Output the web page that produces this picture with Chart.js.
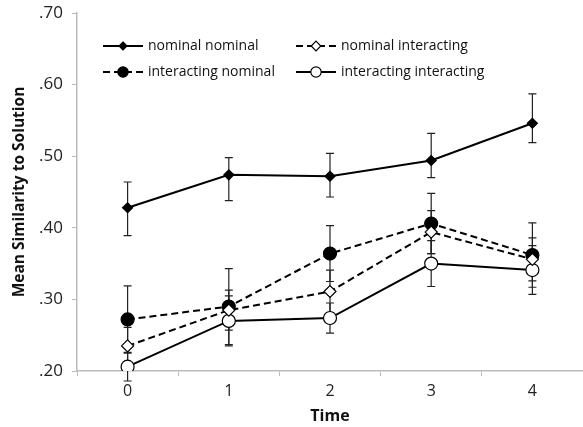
<!DOCTYPE html>
<html>
<head>
<meta charset="utf-8">
<script src="https://cdn.jsdelivr.net/npm/chart.js@4"></script>
<style>
  html, body { margin: 0; padding: 0; background: #fff; }
  #wrap { width: 583px; height: 427px; }
</style>
</head>
<body>
<div id="wrap"><canvas id="c" width="583" height="427"></canvas></div>
<script>
// Time points
const timeLabels = ['0', '1', '2', '3', '4'];

// Mean similarity to solution per condition
const nominalNominal         = [0.428, 0.474, 0.472, 0.494, 0.546];
const nominalInteracting     = [0.235, 0.285, 0.311, 0.394, 0.356];
const interactingNominal     = [0.272, 0.290, 0.364, 0.406, 0.362];
const interactingInteracting = [0.206, 0.270, 0.274, 0.350, 0.341];

// Error bar extents above and below each mean (same units)
const upNominalNominal           = [0.036, 0.024, 0.032, 0.038, 0.041];
const downNominalNominal         = [0.039, 0.036, 0.029, 0.024, 0.027];
const upNominalInteracting       = [0.026, 0.028, 0.030, 0.030, 0.030];
const downNominalInteracting     = [0.026, 0.028, 0.030, 0.030, 0.030];
const upInteractingNominal       = [0.047, 0.053, 0.039, 0.042, 0.045];
const downInteractingNominal     = [0.047, 0.053, 0.039, 0.042, 0.045];
const upInteractingInteracting   = [0.020, 0.035, 0.021, 0.032, 0.034];
const downInteractingInteracting = [0.020, 0.035, 0.021, 0.032, 0.034];

// Y axis tick values
const yTicks = [0.20, 0.30, 0.40, 0.50, 0.60, 0.70];

const FONT = "'Open Sans', 'DejaVu Sans', sans-serif";

// Vertical error bars with caps, drawn beneath lines and markers
const errorBars = {
  id: 'errorBars',
  beforeDatasetsDraw(chart) {
    const ctx = chart.ctx;
    const y = chart.scales.y;
    chart.data.datasets.forEach((ds, i) => {
      const meta = chart.getDatasetMeta(i);
      ctx.save();
      ctx.strokeStyle = '#222';
      ctx.lineWidth = 1.2;
      meta.data.forEach((pt, j) => {
        const v = ds.data[j];
        const yt = y.getPixelForValue(v + ds.errUp[j]);
        const yb = y.getPixelForValue(v - ds.errDown[j]);
        const x = pt.x;
        ctx.beginPath();
        ctx.moveTo(x, yt); ctx.lineTo(x, yb);
        ctx.moveTo(x - 4, yt); ctx.lineTo(x + 4, yt);
        ctx.moveTo(x - 4, yb); ctx.lineTo(x + 4, yb);
        ctx.stroke();
      });
      ctx.restore();
    });
  }
};

// Two-column legend inside the plot area, each entry a line sample with its marker
const insideLegend = {
  id: 'insideLegend',
  afterDraw(chart) {
    const ctx = chart.ctx;
    const cols = [103, 296];
    const rows = [46, 72];
    ctx.save();
    chart.data.datasets.forEach((ds, k) => {
      const x0 = cols[k % 2], yy = rows[Math.floor(k / 2)];
      ctx.strokeStyle = '#000';
      ctx.lineWidth = 2;
      ctx.setLineDash(ds.borderDash || []);
      ctx.beginPath();
      ctx.moveTo(x0, yy); ctx.lineTo(x0 + 40, yy);
      ctx.stroke();
      ctx.setLineDash([]);
      ctx.lineWidth = 1.2;
      ctx.fillStyle = ds.pointBackgroundColor;
      ctx.strokeStyle = '#000';
      ctx.beginPath();
      const r = ds.pointRadius * 0.8;
      if (ds.pointStyle === 'circle') {
        ctx.arc(x0 + 20, yy, r, 0, Math.PI * 2);
      } else {
        ctx.moveTo(x0 + 20, yy - r); ctx.lineTo(x0 + 20 + r, yy);
        ctx.lineTo(x0 + 20, yy + r); ctx.lineTo(x0 + 20 - r, yy); ctx.closePath();
      }
      ctx.fill(); ctx.stroke();
      ctx.fillStyle = '#111';
      ctx.font = "14px 'Open Sans', sans-serif";
      ctx.textBaseline = 'middle';
      ctx.textAlign = 'left';
      ctx.fillText(ds.label, x0 + 45, yy);
    });
    ctx.restore();
  }
};

function series(label, data, errUp, errDown, dashed, style, fill, radius) {
  return {
    label, data, errUp, errDown,
    borderColor: '#000',
    borderWidth: 2,
    borderDash: dashed ? [7, 4] : [],
    pointStyle: style,
    pointRadius: radius,
    pointHoverRadius: radius,
    pointBackgroundColor: fill,
    pointBorderColor: '#000',
    pointBorderWidth: 1.2,
    tension: 0,
    fill: false
  };
}

new Chart(document.getElementById('c'), {
  type: 'line',
  data: {
    labels: timeLabels,
    datasets: [
      series('nominal nominal', nominalNominal, upNominalNominal, downNominalNominal, false, 'rectRot', '#000', 5),
      series('nominal interacting', nominalInteracting, upNominalInteracting, downNominalInteracting, true, 'rectRot', '#fff', 6),
      series('interacting nominal', interactingNominal, upInteractingNominal, downInteractingNominal, true, 'circle', '#000', 6.5),
      series('interacting interacting', interactingInteracting, upInteractingInteracting, downInteractingInteracting, false, 'circle', '#fff', 6.5)
    ]
  },
  options: {
    responsive: false,
    animation: false,
    layout: { autoPadding: false, padding: { top: 13, right: 0, left: 0, bottom: 0 } },
    plugins: {
      legend: { display: false },
      tooltip: { enabled: false }
    },
    scales: {
      x: {
        type: 'category',
        offset: true,
        grid: { offset: true, drawOnChartArea: false, color: '#bbb', tickLength: 5 },
        border: { color: '#bbb', width: 1.5 },
        ticks: { color: '#222', font: { family: FONT, size: 16 }, padding: 6 },
        title: { display: true, text: 'Time', color: '#111', font: { family: FONT, size: 16, weight: 'bold' }, padding: { top: 0, bottom: 1 } },
        afterFit(scale) {
          scale.height = 56;
          scale.paddingLeft = 0;
          scale.paddingRight = 0;
        }
      },
      y: {
        min: 0.2, max: 0.7,
        afterBuildTicks(scale) { scale.ticks = yTicks.map(v => ({ value: v })); },
        grid: { drawOnChartArea: false, color: '#bbb', tickLength: 5 },
        border: { color: '#bbb', width: 1.5 },
        ticks: {
          color: '#222',
          font: { family: FONT, size: 17 },
          padding: 9,
          callback: v => v.toFixed(2).replace(/^0/, '')
        },
        title: { display: true, text: 'Mean Similarity to Solution', color: '#111', font: { family: FONT, size: 15.5, weight: 'bold' }, padding: { top: 10, bottom: 4 } },
        afterFit(scale) {
          scale.width = 77;
          scale.paddingTop = 0;
          scale.paddingBottom = 0;
        }
      }
    }
  },
  plugins: [errorBars, insideLegend]
});
</script>
</body>
</html>
